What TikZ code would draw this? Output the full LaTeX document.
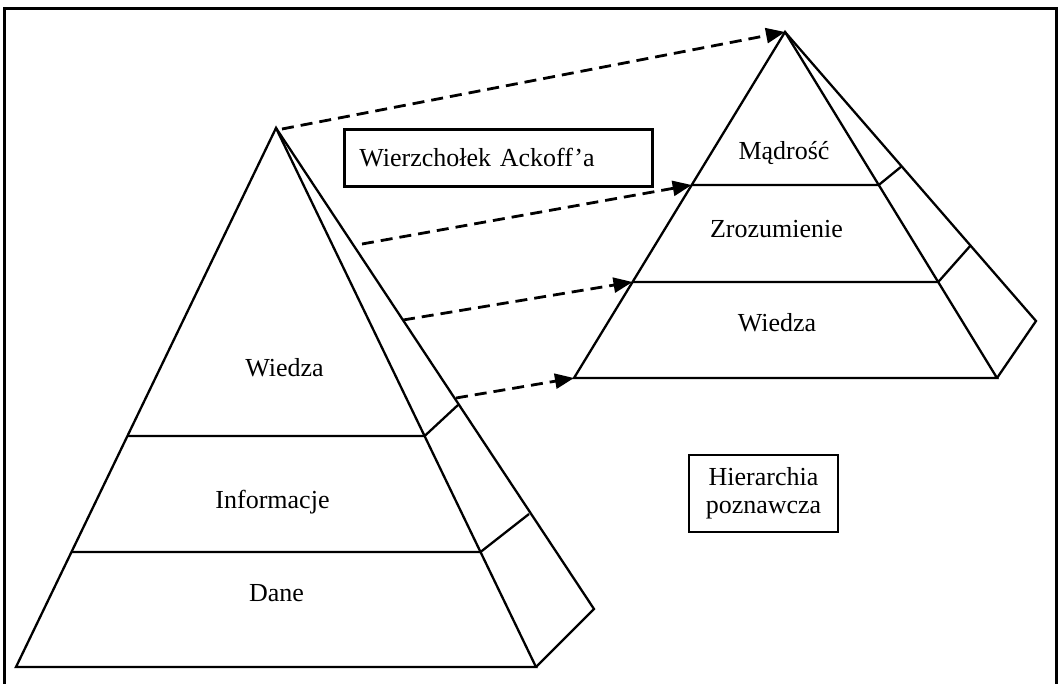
\documentclass[tikz,border=0pt]{standalone}
\usepackage{fontspec}
\setmainfont{Liberation Serif}
\usetikzlibrary{arrows.meta}
\begin{document}
\begin{tikzpicture}[x=1pt,y=-1pt,
  edge/.style={line width=2.3pt},
  link/.style={line width=2.8pt, dash pattern=on 12pt off 7pt,
    -{Triangle[length=19pt,width=15pt]}},
  lbl/.style={font=\fontsize{26}{28}\selectfont, inner sep=0pt},
  frame/.style={draw, line width=2.8pt, font=\fontsize{26}{28}\selectfont}]
\useasboundingbox (0,0) rectangle (1059,683);

% outer frame (its bottom edge lies below the page)
\draw[line width=3pt] (4,700) -- (4,8) -- (1056,8) -- (1056,700);

% ---- left pyramid: Dane / Informacje / Wiedza ----
\coordinate (LA) at (276,128);
\coordinate (LL) at (16,667);
\coordinate (LR) at (536,667);
\coordinate (LB) at (594,609);
\coordinate (L1l) at (127.4,436);
\coordinate (L1r) at (424.6,436);
\coordinate (L2l) at (71.5,552);
\coordinate (L2r) at (480.5,552);
\coordinate (L1b) at (458,405);
\coordinate (L2b) at (529,514);
\draw[edge] (LA) -- (LL) -- (LR) -- cycle;
\draw[edge] (LA) -- (LB) -- (LR);
\draw[edge] (L1l) -- (L1r) -- (L1b);
\draw[edge] (L2l) -- (L2r) -- (L2b);

\node[lbl] (lw) at (284.5,368) {Wiedza};
\node[lbl] (li) at (272.5,502) {Informacje};
\node[lbl] (ld) at (276.5,593) {Dane};

% ---- right pyramid: Wiedza / Zrozumienie / Mądrość ----
\coordinate (RA) at (785,32);
\coordinate (RL) at (574,378);
\coordinate (RR) at (997,378);
\coordinate (RB) at (1036,321);
\coordinate (R1l) at (691.7,185);
\coordinate (R1r) at (878.7,185);
\coordinate (R2l) at (632.5,282);
\coordinate (R2r) at (938.2,282);
\coordinate (R1b) at (902,166);
\coordinate (R2b) at (971,245);
\draw[edge] (RA) -- (RL) -- (RR) -- cycle;
\draw[edge] (RA) -- (RB) -- (RR);
\draw[edge] (R1l) -- (R1r) -- (R1b);
\draw[edge] (R2l) -- (R2r) -- (R2b);

\node[lbl] (rm) at (784,153) {Mądrość};
\node[lbl] (rz) at (776.5,229) {Zrozumienie};
\node[lbl] (rw) at (777,323) {Wiedza};

% ---- level mapping arrows ----
\coordinate (s1) at (282,129);
\coordinate (s2) at (362,244);
\coordinate (s3) at (403,320);
\coordinate (s4) at (456,398);
\draw[link] (s1) -- (RA);
\draw[link] (s2) -- (R1l);
\draw[link] (s3) -- (R2l);
\draw[link] (s4) -- (RL);

% ---- captions ----
\node[frame, anchor=north west, minimum height=57pt, text width=278pt,
  inner xsep=15pt, align=left] (ack) at (343,128) {Wierzchołek Ackoff’a};
\node[frame, minimum width=149pt, minimum height=77pt, align=center,
  inner sep=0pt] (hier) at (763.5,493.5) {Hierarchia\\poznawcza};
\end{tikzpicture}
\end{document}
